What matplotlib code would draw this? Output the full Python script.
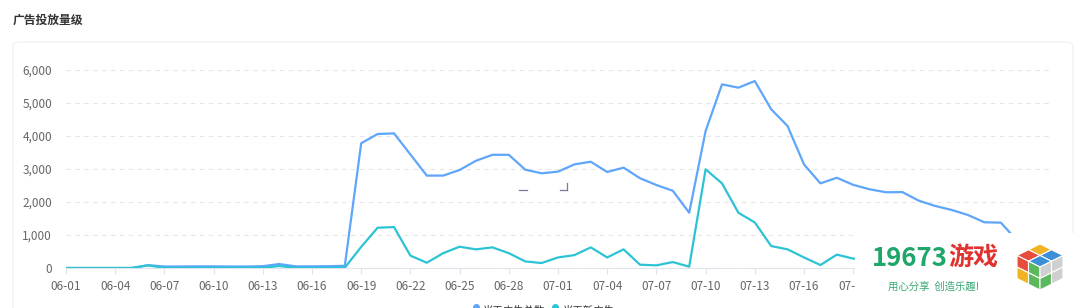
import matplotlib.pyplot as plt
from matplotlib.patches import FancyBboxPatch, Rectangle, Polygon
from matplotlib.lines import Line2D
from matplotlib.ticker import FuncFormatter

plt.rcParams['font.family'] = ['Noto Sans CJK SC', 'DejaVu Sans']

# 06-01 .. 07-31
dates = [f'06-{d:02d}' for d in range(1, 31)] + [f'07-{d:02d}' for d in range(1, 32)]

# 当天广告总数 (last points are behind the watermark)
total_ads = [0, 0, 0, 0, 0, 85, 45, 45, 50, 50, 45, 45, 55, 120, 50, 50, 55, 65,
             3780, 4060, 4080, 3440, 2800, 2800, 2970, 3250, 3430, 3430, 2980, 2870,
             2920, 3140, 3220, 2910, 3040, 2720, 2515, 2340, 1675, 4150, 5565, 5465,
             5665, 4810, 4300, 3140, 2565, 2735, 2520, 2385, 2295, 2300, 2040, 1880,
             1760, 1605, 1385, 1375, 830]
# 当天新广告
new_ads = [0, 0, 0, 0, 0, 80, 5, 5, 5, 10, 10, 10, 10, 60, 5, 5, 5, 10,
           640, 1220, 1240, 375, 160, 450, 645, 565, 625, 450, 200, 150,
           320, 390, 625, 320, 565, 100, 80, 180, 40, 2990, 2565, 1675,
           1380, 665, 565, 320, 90, 405, 285, 250, 230, 220, 200, 190,
           180, 170, 160, 150, 140]

W, H = 1080, 308
fig = plt.figure(figsize=(W / 100, H / 100), dpi=100)


def fx(x):
    return x / W


def fy(y):
    return 1 - y / H


# card behind the chart
fig.add_artist(FancyBboxPatch((fx(13), fy(330)), fx(1060), (330 - 42) / H,
                              boxstyle='round,pad=0,rounding_size=0.01', transform=fig.transFigure,
                              facecolor='white', edgecolor='#f2f2f2', linewidth=1, zorder=-5))
fig.text(fx(13), fy(20), '广告投放量级', fontsize=8.5, fontweight='bold', color='#333333',
         ha='left', va='center')

ax = fig.add_axes([fx(66), fy(268), fx(1050) - fx(66), fy(70) - fy(268)])
x = list(range(len(dates)))
ax.plot(x[:len(total_ads)], total_ads, color='#5fa6fb', linewidth=1.6, zorder=3)
ax.plot(x[:len(new_ads)], new_ads, color='#2cc3d5', linewidth=1.6, zorder=3)

ax.set_xlim(0, len(dates) - 1)
ax.set_ylim(0, 6000)
ax.set_yticks(range(0, 6001, 1000))
ax.yaxis.set_major_formatter(FuncFormatter(lambda v, p: f'{int(v):,}'))
ax.set_xticks(x[::3])
# labels after 07-19 sit under the watermark
ax.set_xticklabels([d if i <= 48 else '' for i, d in zip(x[::3], dates[::3])])
ax.grid(axis='y', color='#e6e6e6', linestyle=(0, (4, 4)), linewidth=0.8)
ax.set_axisbelow(True)
for s in ['top', 'right', 'left']:
    ax.spines[s].set_visible(False)
ax.spines['bottom'].set_color('#e0e4ec')
ax.tick_params(axis='y', length=0, pad=10, labelsize=8.5, labelcolor='#666666')
ax.tick_params(axis='x', length=4, color='#e0e4ec', pad=5, labelsize=8.5, labelcolor='#666666')
ax.set_facecolor('none')

# legend (cut by bottom edge, like the reference)
fig.add_artist(Line2D([fx(476)], [fy(306.5)], marker='o', markersize=4, color='#5fa6fb',
                      transform=fig.transFigure))
fig.text(fx(483), fy(311), '当天广告总数', fontsize=7.5, color='#333333', ha='left', va='center')
fig.add_artist(Line2D([fx(555)], [fy(306.5)], marker='o', markersize=4, color='#2cc3d5',
                      transform=fig.transFigure))
fig.text(fx(563), fy(311), '当天新广告', fontsize=7.5, color='#333333', ha='left', va='center')

# stray tooltip corner marks
for xs, ys in [([519, 527], [190, 190]), ([560, 567], [190, 190]), ([567, 567], [183, 190])]:
    fig.add_artist(Line2D([fx(v) for v in xs], [fy(v) for v in ys], color='#7a7a96',
                          linewidth=0.9, transform=fig.transFigure))

# watermark
fig.add_artist(Rectangle((fx(855), 0), 1 - fx(855), fy(233), transform=fig.transFigure,
                         facecolor='white', edgecolor='none', zorder=5))
fig.text(fx(872), fy(258), '19673', fontsize=18.5, fontweight='bold', color='#1fa66a',
         ha='left', va='center', zorder=6)
fig.text(fx(948), fy(258), '游戏', fontsize=18, fontweight='bold', color='#e0332f',
         ha='left', va='center', zorder=6)
fig.text(fx(888), fy(287), '用心分享  创造乐趣!', fontsize=7.5, color='#3aa874',
         ha='left', va='center', zorder=6, style='italic')

# cube icon
cx, top, s = 1040, 244, 11.5
top_cols = ['#f0b323', '#3a8fd8', '#e84c3d', '#3a8fd8']
left_cols = ['#e84c3d', '#5cb85c', '#f0b323', '#5cb85c']
right_cols = ['#cfcfcf', '#cfcfcf', '#5cb85c', '#cfcfcf']


def face(pts, col):
    fig.add_artist(Polygon([(fx(a), fy(b)) for a, b in pts], closed=True, transform=fig.transFigure,
                           facecolor=col, edgecolor='white', linewidth=0.8, zorder=7))


k = 0
for i in range(2):
    for j in range(2):
        ox = cx + (j - i) * s
        oy = top + (i + j) * s * 0.5
        face([(ox, oy), (ox + s, oy + s * 0.5), (ox, oy + s), (ox - s, oy + s * 0.5)], top_cols[k])
        k += 1
k = 0
for i in range(2):
    for j in range(2):
        ox = cx - 2 * s + j * s
        oy = top + s + j * s * 0.5 + i * s
        face([(ox, oy), (ox + s, oy + s * 0.5), (ox + s, oy + 1.5 * s), (ox, oy + s)], left_cols[k])
        k += 1
k = 0
for i in range(2):
    for j in range(2):
        ox = cx + j * s
        oy = top + 2 * s - j * s * 0.5 + i * s
        face([(ox, oy), (ox + s, oy - s * 0.5), (ox + s, oy + 0.5 * s), (ox, oy + s)], right_cols[k])
        k += 1

fig.savefig('out.png', dpi=100)
